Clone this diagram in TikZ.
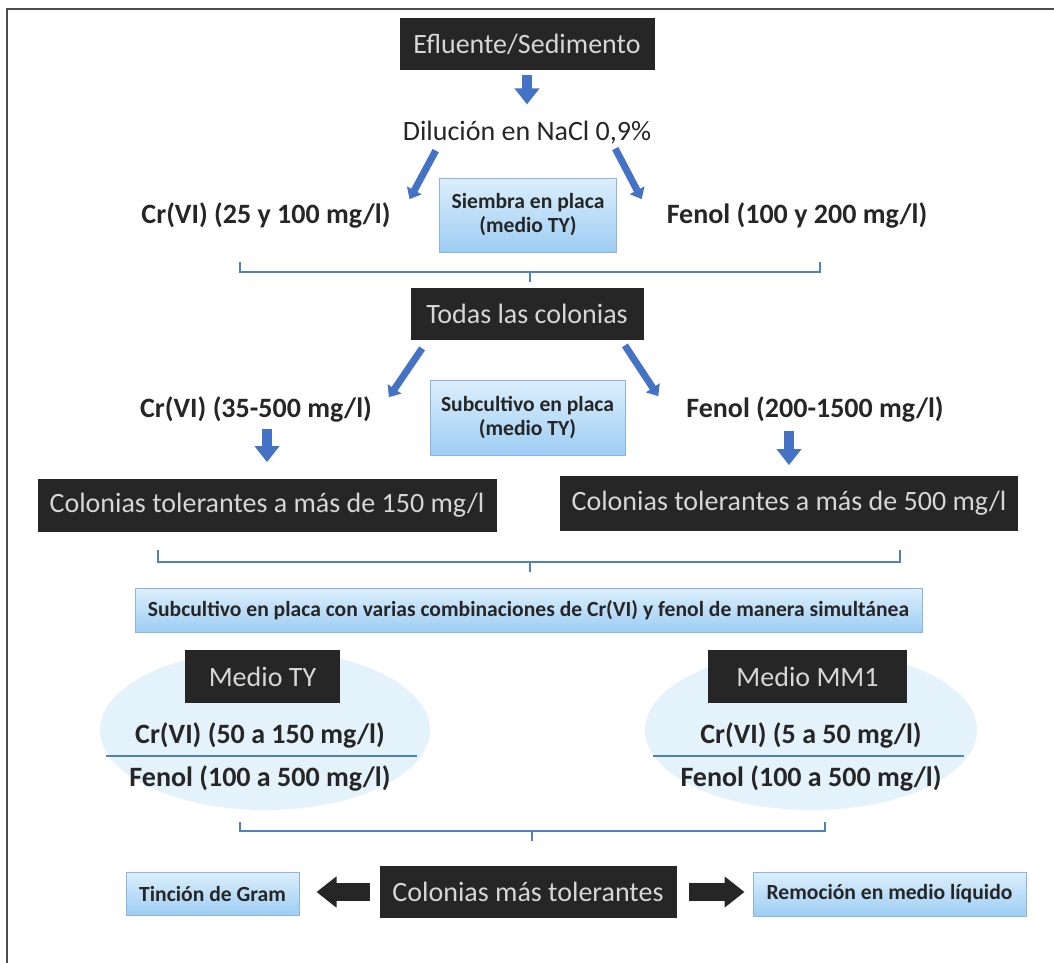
\documentclass[tikz,border=0pt]{standalone}
\usepackage{fontspec}
\setmainfont{Carlito}
\usetikzlibrary{arrows.meta,calc}

\definecolor{cajanegra}{HTML}{262626}
\definecolor{textoclaro}{HTML}{D6D6D6}
\definecolor{azulflecha}{HTML}{4472C4}
\definecolor{azulllave}{HTML}{4F81BD}
\definecolor{azulclaro}{HTML}{DCEFFC}
\definecolor{azulmedio}{HTML}{9DCDF3}
\definecolor{azulborde}{HTML}{8DB3E2}
\definecolor{elipse}{HTML}{E4F2FB}

\tikzset{
  negra/.style={fill=cajanegra, text=textoclaro, font=\fontsize{14}{16}\selectfont, minimum height=26pt, inner sep=2pt},
  celeste/.style={draw=azulborde, line width=0.5pt, top color=azulclaro, bottom color=azulmedio,
    font=\fontsize{10.8}{12}\selectfont\bfseries, align=center, inner sep=1pt, text=black!85},
  dosis/.style={font=\fontsize{14}{16}\selectfont\bfseries, text=black!85},
  flecha/.style={azulflecha, line width=3.5pt, -{Triangle[length=5pt,width=8pt]}},
  flechagruesa/.style={azulflecha, line width=5pt, -{Triangle[length=8pt,width=12pt]}},
  flechanegra/.style={cajanegra, line width=9pt, -{Triangle[length=10pt,width=15pt]}},
  llave/.style={azulllave, line width=1pt},
}

\begin{document}
\begin{tikzpicture}[x=0.5pt, y=-0.5pt]
  \useasboundingbox (0,0) rectangle (1054,963);

  % Marco
  \draw[line width=1pt, black!70] (7,963) -- (7,9) -- (1054,9);

  % Siembra
  \node[negra, minimum width=127.5pt] (efluente) at (527,44) {Efluente/Sedimento};
  \node[text=black!85, font=\fontsize{14}{16}\selectfont] (dilucion) at (527,133) {Dilución en NaCl 0,9\%};
  \node[dosis] (cr1) at (266,215) {Cr(VI) (25 y 100 mg/l)};
  \node[celeste, minimum width=88.5pt, minimum height=37pt] (siembra) at (528,215) {Siembra en placa\\(medio TY)};
  \node[dosis] (fen1) at (797,215) {Fenol (100 y 200 mg/l)};

  \draw[flechagruesa, shorten <=2.5pt, shorten >=5pt] (efluente) -- (dilucion);
  \draw[flecha] ($(dilucion.south west)+(40,-1)$) -- ($(cr1.north east)+(12,4)$);
  \draw[flecha] ($(dilucion.south east)+(-43,-3)$) -- ($(fen1.north west)+(-18,4)$);

  % Llave 1
  \draw[llave] (240,262) -- (240,272) -- (820,272) -- (820,262);
  \draw[llave] (530,272) -- (530,282);

  % Subcultivo
  \node[negra, minimum width=116.5pt] (todas) at (527,314) {Todas las colonias};
  \node[dosis] (cr2) at (256,409) {Cr(VI) (35-500 mg/l)};
  \node[celeste, minimum width=97.5pt, minimum height=37.5pt] (subcultivo) at (527.5,417.5) {Subcultivo en placa\\(medio TY)};
  \node[dosis] (fen2) at (815,409) {Fenol (200-1500 mg/l)};
  \node[negra, minimum width=229.5pt, minimum height=26.5pt] (col150) at (267,505) {Colonias tolerantes a más de 150 mg/l};
  \node[negra, minimum width=229pt, minimum height=27.5pt] (col500) at (789,503) {Colonias tolerantes a más de 500 mg/l};

  \draw[flecha] ($(todas.south west)+(12,8)$) -- ($(cr2.north east)+(10,8)$);
  \draw[flecha] ($(todas.south east)+(-19,5)$) -- ($(fen2.north west)+(-21,7)$);
  \draw[flechagruesa, shorten >=8pt] (cr2.south -| col150.north) -- (col150.north);
  \draw[flechagruesa, shorten <=1pt, shorten >=5pt] (fen2.south -| col500.north) -- (col500.north);

  % Llave 2
  \draw[llave] (158,550) -- (158,562) -- (900,562) -- (900,550);
  \draw[llave] (530,562) -- (530,572);

  \node[celeste, minimum width=393.5pt, minimum height=22pt] (combinaciones) at (528.5,610)
    {Subcultivo en placa con varias combinaciones de Cr(VI) y fenol de manera simultánea};

  % Medios
  \fill[elipse] (265,730) ellipse [x radius=82.5pt, y radius=40pt];
  \fill[elipse] (811,730) ellipse [x radius=83pt, y radius=40pt];

  \node[negra, minimum width=77.5pt, minimum height=26.5pt] (medioty) at (262.5,676.5) {Medio TY};
  \node[dosis] (cr3) at (260,735) {Cr(VI) (50 a 150 mg/l)};
  \node[dosis] (fen3) at (260,778) {Fenol (100 a 500 mg/l)};
  \draw[llave] (106,756) -- (417,756);

  \node[negra, minimum width=99.5pt, minimum height=26.5pt] (mediomm) at (807.5,676.5) {Medio MM1};
  \node[dosis] (cr4) at (811,735) {Cr(VI) (5 a 50 mg/l)};
  \node[dosis] (fen4) at (811,778) {Fenol (100 a 500 mg/l)};
  \draw[llave] (653,756) -- (964,756);

  % Llave 3
  \draw[llave] (240,822) -- (240,831) -- (825,831) -- (825,822);
  \draw[llave] (532,831) -- (532,841);

  % Resultado
  \node[negra, minimum width=148.5pt] (tolerantes) at (528,892) {Colonias más tolerantes};
  \node[celeste, minimum width=86.5pt, minimum height=21.5pt] (gram) at (212.5,893.5) {Tinción de Gram};
  \node[celeste, minimum width=136.5pt, minimum height=22pt] (remocion) at (889.5,894) {Remoción en medio líquido};

  \draw[flechanegra, shorten <=4.5pt, shorten >=8.5pt] (tolerantes.west) -- (tolerantes.west -| gram.east);
  \draw[flechanegra, shorten <=6pt, shorten >=4pt] (tolerantes.east) -- (tolerantes.east -| remocion.west);
\end{tikzpicture}
\end{document}
